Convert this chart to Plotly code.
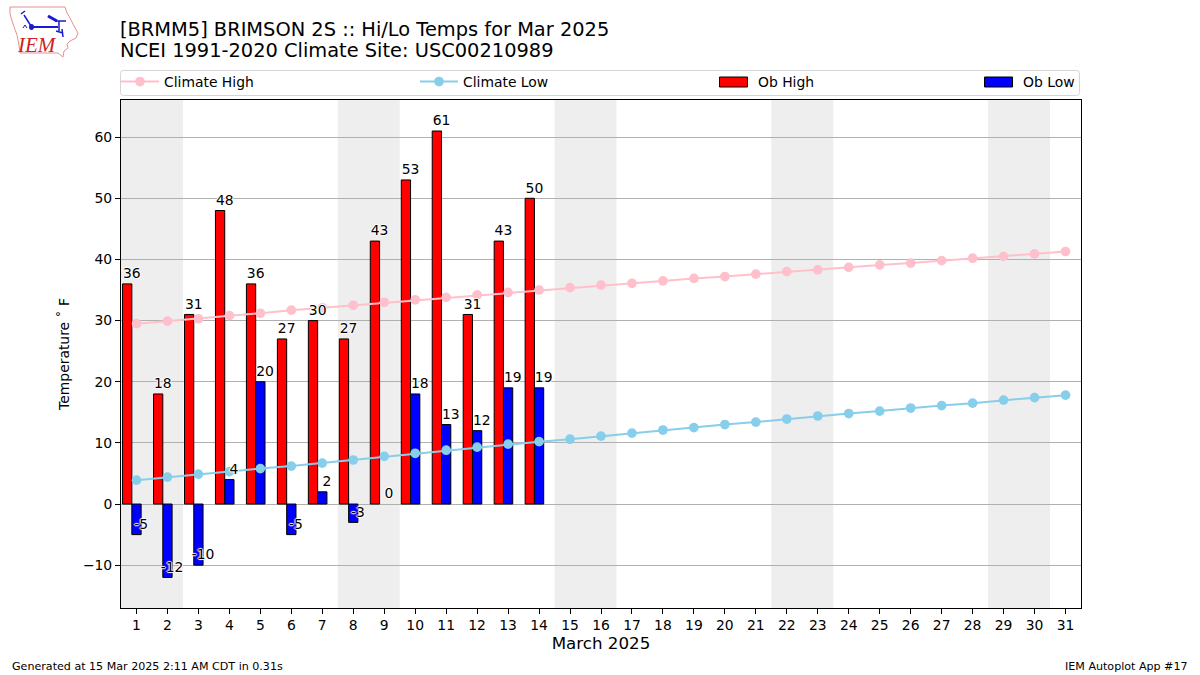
import plotly.graph_objects as go

days = list(range(1, 32))
tick_labels = [str(d) for d in days]
obs_days = list(range(1, 15))
ob_high = [36, 18, 31, 48, 36, 27, 30, 27, 43, 53, 61, 31, 43, 50]
ob_low = [-5, -12, -10, 4, 20, -5, 2, -3, 0, 18, 13, 12, 19, 19]
climate_high = [29.5, 29.9, 30.3, 30.8, 31.2, 31.7, 32.1, 32.5, 33.0, 33.4, 33.8, 34.2, 34.6, 35.0, 35.4, 35.8,
                36.1, 36.5, 36.9, 37.2, 37.6, 38.0, 38.3, 38.7, 39.1, 39.4, 39.8, 40.2, 40.5, 40.9, 41.3]
climate_low = [3.9, 4.4, 4.9, 5.3, 5.8, 6.2, 6.7, 7.2, 7.8, 8.3, 8.8, 9.3, 9.8, 10.2, 10.6, 11.1,
               11.6, 12.1, 12.5, 13.0, 13.4, 13.9, 14.4, 14.8, 15.2, 15.7, 16.1, 16.5, 17.0, 17.4, 17.8]
weekends = [(1, 2), (8, 9), (15, 16), (22, 23), (29, 30)]

FONT = "DejaVu Sans"
W, H = 1200, 675
L, R, T, B = 121, 1081, 100, 608
halo = "1px 0 1px white, -1px 0 1px white, 0 1px 1px white, 0 -1px 1px white, 0 0 1px white"


def px(x):
    return (x - L) / (R - L)


def py(y):
    return (B - y) / (B - T)


def path(points, close=True):
    s = "M" + " L".join(f"{px(x):.5f},{py(y):.5f}" for x, y in points)
    return s + (" Z" if close else "")


def paper_shape(**kw):
    return dict(xref="paper", yref="paper", **kw)


def rounded(x0, y0, x1, y1, r):
    p = lambda x, y: f"{px(x):.5f},{py(y):.5f}"
    return (f"M{p(x0 + r, y0)} L{p(x1 - r, y0)} Q{p(x1, y0)} {p(x1, y0 + r)} L{p(x1, y1 - r)} Q{p(x1, y1)} {p(x1 - r, y1)} "
            f"L{p(x0 + r, y1)} Q{p(x0, y1)} {p(x0, y1 - r)} L{p(x0, y0 + r)} Q{p(x0, y0)} {p(x0 + r, y0)} Z")


fig = go.Figure()
fig.add_bar(x=obs_days, y=ob_high, width=0.3, offset=-0.45, name="Ob High", showlegend=False,
            marker=dict(color="#ff0000", line=dict(color="black", width=1)))
# a zero low has no visible bar in the reference, only its label
fig.add_bar(x=obs_days, y=[v if v != 0 else None for v in ob_low], width=0.3, offset=-0.15, name="Ob Low",
            showlegend=False, marker=dict(color="#0000ff", line=dict(color="black", width=1)))
fig.add_scatter(x=days, y=climate_high, mode="lines+markers", name="Climate High", legend="legend",
                line=dict(color="pink", width=2), marker=dict(color="pink", size=9.7))
fig.add_scatter(x=days, y=climate_low, mode="lines+markers", name="Climate Low", legend="legend2",
                line=dict(color="skyblue", width=2), marker=dict(color="skyblue", size=9.7))
fig.add_scatter(x=[d - 0.15 for d in obs_days], y=ob_high, mode="text+markers", text=[str(v) for v in ob_high],
                textposition="top center", showlegend=False, hoverinfo="skip",
                marker=dict(size=2, opacity=0),
                textfont=dict(family=FONT, size=13.9, color="black", shadow=halo))
fig.add_scatter(x=[d + 0.15 for d in obs_days], y=ob_low, mode="text+markers", text=[str(v) for v in ob_low],
                textposition="top center", showlegend=False, hoverinfo="skip",
                marker=dict(size=2, opacity=0),
                textfont=dict(family=FONT, size=13.9, color="black", shadow=halo))

shapes = [dict(type="rect", xref="x", yref="paper", x0=a - 0.5, x1=b + 0.5, y0=0, y1=1,
               fillcolor="#eeeeee", line_width=0, layer="below") for a, b in weekends]
# legend frame and the two bar swatches
shapes.append(paper_shape(type="path", path=rounded(120.5, 70.5, 1079.5, 95.5, 3),
                          fillcolor="white", line=dict(color="#d5d5d5", width=1), layer="below"))
for x0, color in ((719.5, "#ff0000"), (984.5, "#0000ff")):
    shapes.append(paper_shape(type="rect", x0=px(x0), x1=px(x0 + 28), y0=py(87), y1=py(77),
                              fillcolor=color, line=dict(color="black", width=1), layer="above"))
# logo: state outline
outline = [(10, 7), (65, 7), (67, 13), (70, 18), (74, 26), (78, 33), (76, 38), (70, 41), (67, 44), (68, 48),
           (64, 51), (63, 57), (58, 53), (20, 53), (19, 45), (17, 35), (13, 24), (10, 14)]
shapes.append(paper_shape(type="path", path=path(outline), line=dict(color="#e59090", width=1), layer="above"))
BLUE = "#1a1ad0"
for seg, w in (([(31, 27), (58, 27)], 2), ([(31, 26), (24, 15)], 1.5), ([(21, 14), (25, 11)], 1.5),
               ([(48, 16), (57, 21)], 3), ([(55, 21), (66, 21)], 1.5), ([(59, 21), (59, 31)], 1.5),
               ([(56, 31), (63, 33)], 1.5), ([(62, 29), (63, 37)], 1.5), ([(23, 28), (25, 25), (27, 28)], 1)):
    shapes.append(paper_shape(type="path", path=path(seg, close=False), line=dict(color=BLUE, width=w), layer="above"))
shapes.append(paper_shape(type="circle", x0=px(29), x1=px(34), y0=py(30), y1=py(24),
                          fillcolor=BLUE, line_width=0, layer="above"))

annots = [
    dict(text="[BRMM5] BRIMSON 2S :: Hi/Lo Temps for Mar 2025", x=120, y=29, size=19.4, xanchor="left"),
    dict(text="NCEI 1991-2020 Climate Site: USC00210989", x=120, y=51, size=19.4, xanchor="left"),
    dict(text="Generated at 15 Mar 2025 2:11 AM CDT in 0.31s", x=12, y=666, size=11.1, xanchor="left"),
    dict(text="IEM Autoplot App #17", x=1188, y=666, size=11.1, xanchor="right"),
    dict(text="Ob High", x=758, y=82, size=13.9, xanchor="left"),
    dict(text="Ob Low", x=1023, y=82, size=13.9, xanchor="left"),
]
annotations = [dict(text=a["text"], x=px(a["x"]), y=py(a["y"]), xref="paper", yref="paper", xanchor=a["xanchor"],
                    yanchor="middle", showarrow=False, font=dict(family=FONT, size=a["size"], color="black"),
                    borderpad=0, borderwidth=0)
               for a in annots]
annotations.append(dict(text="<i>IEM</i>", x=px(37), y=py(45), xref="paper", yref="paper", showarrow=False,
                        xanchor="center", yanchor="middle",
                        font=dict(family="Liberation Serif", size=21, color="#cc2222")))

legend_base = dict(bgcolor="rgba(0,0,0,0)", borderwidth=0, yanchor="middle", xanchor="left",
                   orientation="h", font=dict(family=FONT, size=13.9, color="black"), itemclick=False,
                   itemdoubleclick=False, itemwidth=38)
fig.update_layout(
    width=W, height=H, autosize=False,
    margin=dict(l=L, r=W - R, t=T, b=H - B, pad=0),
    paper_bgcolor="white", plot_bgcolor="rgba(0,0,0,0)",
    barmode="overlay", shapes=shapes, annotations=annotations,
    hovermode=False,
    xaxis=dict(range=[0.5, 31.5], tickmode="array", tickvals=days, ticktext=tick_labels, showgrid=False,
               ticks="outside", ticklen=5, tickcolor="black", showline=True, linecolor="black", mirror=True,
               zeroline=False, tickfont=dict(family=FONT, size=13.9, color="black"), ticklabelstandoff=-1,
               title=dict(text="March 2025", font=dict(family=FONT, size=16.7, color="black"), standoff=5)),
    yaxis=dict(range=[-17.0, 66.07], tickmode="array", tickvals=[-10, 0, 10, 20, 30, 40, 50, 60],
               ticktext=["\u221210", "0", "10", "20", "30", "40", "50", "60"], showgrid=True, gridcolor="#b0b0b0",
               gridwidth=1, ticks="outside", ticklen=5, tickcolor="black", showline=True, linecolor="black",
               mirror=True, zeroline=False, tickfont=dict(family=FONT, size=13.9, color="black"),
               title=dict(text="Temperature \u02da F", font=dict(family=FONT, size=13.9, color="black"),
                          standoff=10)),
    legend=dict(x=px(116), y=py(82), **legend_base),
    legend2=dict(x=px(415), y=py(82), **legend_base),
)
fig.write_html("out.html", config=dict(displayModeBar=False), post_script="document.body.style.margin='0';")
